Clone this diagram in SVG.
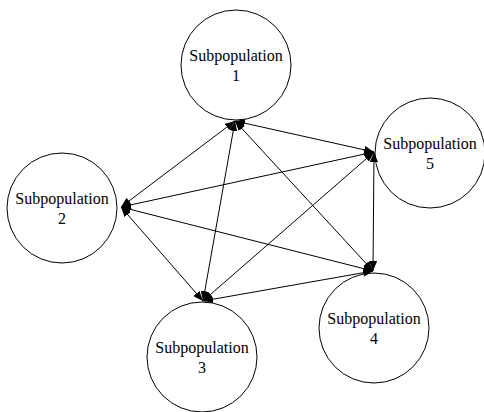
<svg xmlns="http://www.w3.org/2000/svg" width="484" height="412" viewBox="0 0 484 412">
<style>
.node circle{fill:#fff;stroke:#000;stroke-width:1}
.node text{font-family:"Liberation Serif","Times New Roman",serif;font-size:16px;fill:#000;text-anchor:middle}
.edges line{stroke:#000;stroke-width:1;marker-start:url(#ah);marker-end:url(#ah)}
</style>
<defs>
<marker id="ah" viewBox="0 0 10 8" refX="10" refY="4" markerWidth="10" markerHeight="8" markerUnits="userSpaceOnUse" orient="auto-start-reverse">
<path d="M0,0 L10,4 L0,8 Z" fill="#000"/>
</marker>
</defs>
<rect width="484" height="412" fill="#fff"/>
<g id="n1" class="node"><circle cx="236" cy="65" r="55"/><text x="236" y="61">Subpopulation</text><text x="236" y="81">1</text></g>
<g id="n2" class="node"><circle cx="62" cy="208" r="55"/><text x="62" y="204">Subpopulation</text><text x="62" y="224">2</text></g>
<g id="n3" class="node"><circle cx="202" cy="357" r="55"/><text x="202" y="353">Subpopulation</text><text x="202" y="373">3</text></g>
<g id="n4" class="node"><circle cx="374" cy="328" r="55"/><text x="374" y="324">Subpopulation</text><text x="374" y="344">4</text></g>
<g id="n5" class="node"><circle cx="430" cy="153" r="55"/><text x="430" y="149">Subpopulation</text><text x="430" y="169">5</text></g>
<g id="edges" class="edges">
<line x1="235" y1="121" x2="121" y2="207"/>
<line x1="235" y1="121" x2="203" y2="301"/>
<line x1="235" y1="121" x2="373" y2="271"/>
<line x1="235" y1="121" x2="374" y2="152"/>
<line x1="121" y1="207" x2="374" y2="152"/>
<line x1="121" y1="207" x2="373" y2="271"/>
<line x1="121" y1="207" x2="203" y2="301"/>
<line x1="203" y1="301" x2="374" y2="152"/>
<line x1="203" y1="301" x2="373" y2="271"/>
<line x1="374" y1="152" x2="373" y2="271"/>
</g>
</svg>
